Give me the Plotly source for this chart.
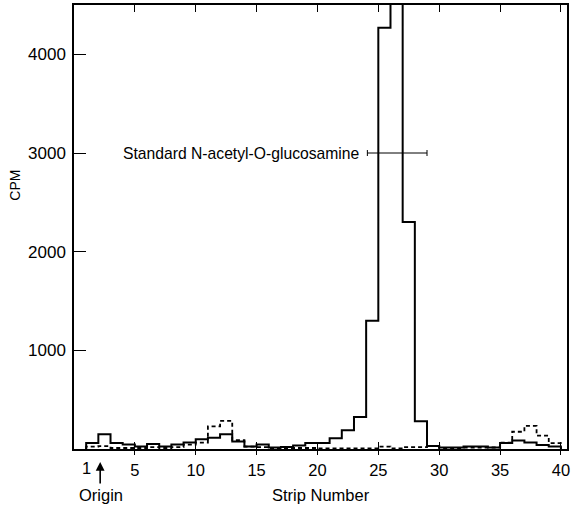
import plotly.graph_objects as go

# ---- data ----
strips = [1, 2, 3, 4, 5, 6, 7, 8, 9, 10, 11, 12, 13, 14, 15, 16, 17, 18, 19, 20,
          21, 22, 23, 24, 25, 26, 27, 28, 29, 30, 31, 32, 33, 34, 35, 36, 37, 38, 39]
solid_cpm = [60, 150, 60, 45, 25, 50, 25, 45, 65, 100, 115, 150, 75, 25, 45, 15, 20, 35, 60, 60,
             110, 190, 325, 1300, 4270, 5500, 2300, 280, 30, 15, 15, 25, 25, 15, 60, 85, 65, 40, 25]
dashed_cpm = [25, 30, 10, 10, 10, 20, 10, 20, 45, 65, 230, 285, 90, 25, 20, 10, 10, 10, 10, 5,
              5, 5, 5, 5, 25, 5, 20, 20, 30, 10, 10, 15, 15, 15, 65, 175, 235, 135, 60]

x_tick_vals = [5, 10, 15, 20, 25, 30, 35, 40]
x_tick_text = ["5", "10", "15", "20", "25", "30", "35", "40"]
first_strip_label = "1"
y_tick_vals = [1000, 2000, 3000, 4000]
y_tick_text = ["1000", "2000", "3000", "4000"]

standard_label = "Standard N-acetyl-O-glucosamine"
standard_center = 26.55
standard_halfwidth = 2.45
standard_cpm = 3000
origin_strip = 2.15

x_range = [0, 40.5]
y_range = [0, 4500]

# ---- step outlines built from the arrays ----
x_edges = [strips[0]] + strips + [strips[-1] + 1]
solid_y = [0] + solid_cpm + [0]
dashed_y = [0] + dashed_cpm + [0]

FONT = "Liberation Sans, Arial, sans-serif"

fig = go.Figure()
fig.add_trace(go.Scatter(
    x=x_edges, y=dashed_y, mode="lines",
    line=dict(shape="hv", color="black", width=1.8, dash="4px,3px"),
    showlegend=False, hoverinfo="skip"))
fig.add_trace(go.Scatter(
    x=x_edges, y=solid_y, mode="lines",
    line=dict(shape="hv", color="black", width=2),
    showlegend=False))
fig.add_trace(go.Scatter(
    x=[standard_center], y=[standard_cpm], mode="markers",
    marker=dict(size=1, color="rgba(0,0,0,0)"),
    error_x=dict(type="constant", value=standard_halfwidth, color="black",
                 thickness=1, width=3),
    xaxis="x2", showlegend=False))

fig.update_layout(
    width=571, height=507, autosize=False,
    margin=dict(l=74, r=2, t=5, b=58),
    paper_bgcolor="white", plot_bgcolor="rgba(0,0,0,0)",
    font=dict(family=FONT, color="black", size=16),
    xaxis=dict(range=x_range, tickvals=x_tick_vals, ticktext=x_tick_text,
               ticks="inside", ticklen=7, tickwidth=1.2, tickcolor="black",
               showline=True, linecolor="black", linewidth=1.5, mirror="ticks",
               showgrid=False, zeroline=False, tickfont=dict(size=16.5),
               ticklabelstandoff=5),
    xaxis2=dict(range=x_range, overlaying="x", side="bottom", anchor="y",
                tickvals=x_tick_vals, ticks="outside", ticklen=5, tickwidth=1.2,
                tickcolor="black", showticklabels=False,
                showgrid=False, zeroline=False),
    yaxis=dict(range=y_range, tickvals=y_tick_vals, ticktext=y_tick_text,
               ticks="inside", ticklen=12, tickwidth=1.2, tickcolor="black",
               showline=True, linecolor="black", linewidth=1.5, mirror=True,
               showgrid=False, zeroline=False, tickfont=dict(size=17),
               ticklabelstandoff=3),
    annotations=[
        dict(text=standard_label, x=standard_center - standard_halfwidth - 0.45,
             y=standard_cpm, xref="x", yref="y", xanchor="right", yanchor="middle",
             showarrow=False, font=dict(size=15.7)),
        dict(text="CPM", x=-0.12, y=0.595, xref="paper", yref="paper",
             xanchor="center", yanchor="middle",
             textangle=-90, showarrow=False, font=dict(size=14)),
        dict(text="Strip Number", x=0.5, y=0, xref="paper", yref="paper",
             yanchor="middle", yshift=-46, showarrow=False, font=dict(size=16.5)),
        dict(text=first_strip_label, x=strips[0], y=0, xref="x", yref="paper",
             yanchor="middle", yshift=-19, showarrow=False, font=dict(size=16.5)),
        dict(text="Origin", x=origin_strip + 0.05, y=0, xref="x", yref="paper",
             yanchor="middle", yshift=-46, showarrow=False, font=dict(size=16.5)),
        dict(text="", x=origin_strip, y=-0.0293, xref="x", yref="paper",
             showarrow=True, ax=0, ay=23, axref="pixel", ayref="pixel",
             arrowhead=2, arrowsize=1.1, arrowwidth=1.6, arrowcolor="black"),
    ],
)

fig.write_html("out.html", config={"displayModeBar": False},
               post_script="document.body.style.margin='0px';")
